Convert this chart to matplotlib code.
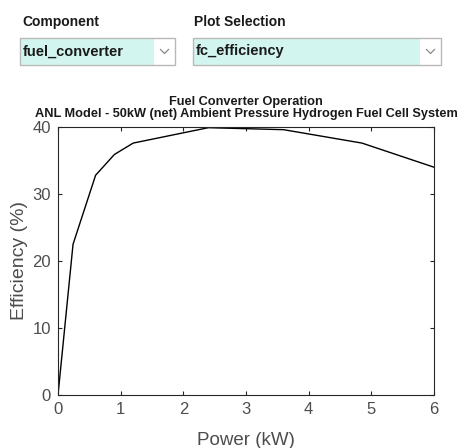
import matplotlib
matplotlib.use("Agg")
import matplotlib.pyplot as plt
from matplotlib.patches import Rectangle

plt.rcParams['font.family'] = ['Liberation Sans', 'DejaVu Sans']

power_kw = [0.0, 0.24, 0.6, 0.9, 1.2, 2.4, 3.6, 4.85, 6.0]
efficiency_pct = [0.0, 22.5, 32.8, 35.9, 37.6, 39.9, 39.6, 37.6, 34.0]

x_ticks = [0, 1, 2, 3, 4, 5, 6]
y_ticks = [0, 10, 20, 30, 40]

W, H = 464, 448
fig = plt.figure(figsize=(W / 100, H / 100), dpi=100)
fig.patch.set_facecolor('white')

def fx(px):
    return px / W

def fy(py):
    return 1 - py / H

# --- widget area ---
fig.text(fx(22), fy(22), "Component", fontsize=10, fontweight='bold', va='center', ha='left', color='#1a1a1a')
fig.text(fx(194), fy(22), "Plot Selection", fontsize=10, fontweight='bold', va='center', ha='left', color='#1a1a1a')

def dropdown(x0, x1, xc, y0, y1, text):
    fig.patches.append(Rectangle((fx(x0), fy(y1)), fx(xc - x0), fy(y0) - fy(y1),
                                 transform=fig.transFigure, facecolor='#d2f6ef', edgecolor='none'))
    fig.patches.append(Rectangle((fx(x0), fy(y1)), fx(x1 - x0), fy(y0) - fy(y1),
                                 transform=fig.transFigure, facecolor='none', edgecolor='#b9b9b9', lw=1))
    fig.text(fx(x0 + 3), fy((y0 + y1) / 2), text, fontsize=10.5, fontweight='bold', va='center', ha='left', color='#1a1a1a')
    cx = (xc + x1) / 2
    cy = (y0 + y1) / 2
    fig.lines.append(plt.Line2D([fx(cx - 4), fx(cx), fx(cx + 4)], [fy(cy - 2), fy(cy + 2), fy(cy - 2)],
                                transform=fig.transFigure, color='#888888', lw=0.9))

dropdown(20, 175, 154, 38, 65, "fuel_converter")
dropdown(193, 441, 420, 38, 65, "fc_efficiency")

# --- axes ---
ax = fig.add_axes([fx(58), fy(395), fx(434) - fx(58), fy(127) - fy(395)])
ax.plot(power_kw, efficiency_pct, color='black', lw=1.0)
ax.set_xlim(0, 6)
ax.set_ylim(0, 40)
ax.set_xticks(x_ticks)
ax.set_yticks(y_ticks)
ax.tick_params(direction='in', top=True, right=True, length=3, width=0.8,
               labelsize=12, colors='#262626', labelcolor='#4d4d4d', pad=5)
for s in ax.spines.values():
    s.set_color('#262626')
    s.set_linewidth(0.8)
ax.set_xlabel("Power (kW)", fontsize=13.5, color='#4d4d4d', labelpad=11)
ax.set_ylabel("Efficiency (%)", fontsize=14, color='#4d4d4d', labelpad=3)
ax.set_title("Fuel Converter Operation\nANL Model - 50kW (net) Ambient Pressure Hydrogen Fuel Cell System",
             fontsize=9.2, fontweight='bold', color='#1a1a1a', pad=7, linespacing=1.0)

fig.savefig("out.png", dpi=100)
